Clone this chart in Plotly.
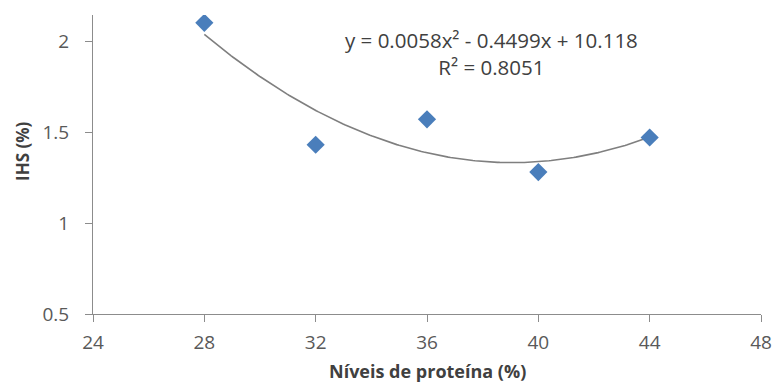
import numpy as np
import plotly.graph_objects as go

protein = [28, 32, 36, 40, 44]
ihs = [2.10, 1.43, 1.57, 1.28, 1.47]
x_ticks = [24, 28, 32, 36, 40, 44, 48]
y_ticks = [0.5, 1, 1.5, 2]
equation = "y = 0.0058x² - 0.4499x + 10.118<br>R² = 0.8051"
x_title = "Níveis de proteína (%)"
y_title = "IHS (%)"

FONT = "Open Sans, Liberation Sans, sans-serif"

coef = np.polyfit(protein, ihs, 2)
xf = np.linspace(min(protein), max(protein), 200)
yf = np.polyval(coef, xf)

fig = go.Figure()
fig.add_trace(go.Scatter(x=xf, y=yf, mode="lines",
                         line=dict(color="#7f7f7f", width=1.6), hoverinfo="skip"))
fig.add_trace(go.Scatter(x=protein, y=ihs, mode="markers",
                         marker=dict(symbol="diamond", size=14, color="#4a7ebb",
                                     line=dict(width=0))))

fig.add_annotation(x=0.597, y=1.0, xref="paper", yref="paper", text=equation,
                   showarrow=False, align="center", xanchor="center", yanchor="middle",
                   yshift=-38,
                   font=dict(family=FONT, size=20.5, color="#404040"))

fig.add_annotation(x=0.5, y=0, xref="paper", yref="paper", text="<b>" + x_title + "</b>",
                   showarrow=False, xanchor="center", yanchor="middle", yshift=-57,
                   font=dict(family=FONT, size=18, color="#404040"))
fig.add_annotation(x=0, y=0.542, xref="paper", yref="paper", text="<b>" + y_title + "</b>",
                   showarrow=False, xanchor="center", yanchor="middle", xshift=-70,
                   textangle=-90,
                   font=dict(family=FONT, size=17, color="#404040"))

axis_common = dict(showgrid=False, zeroline=False, showline=True, linecolor="#8c8c8c",
                   linewidth=1, ticks="outside", ticklen=7, tickcolor="#8c8c8c",
                   automargin=False,
                   tickfont=dict(family=FONT, size=19, color="#595959"))

fig.update_layout(
    width=774, height=385,
    margin=dict(l=93, r=13, t=15, b=71),
    paper_bgcolor="white", plot_bgcolor="white",
    showlegend=False,
    xaxis=dict(range=[24, 48], tickvals=x_ticks, ticktext=[str(v) for v in x_ticks],
               ticklabelstandoff=4, **axis_common),
    yaxis=dict(range=[0.5, 2.143], tickvals=y_ticks, ticktext=["0.5", "1", "1.5", "2"],
               ticklabelstandoff=12, **axis_common),
)

# remove the browser's default 8px body margin so the figure fills the window exactly
fig.write_html("out.html", config={"displayModeBar": False},
               post_script="document.body.style.margin='0';document.body.style.overflow='hidden';")
